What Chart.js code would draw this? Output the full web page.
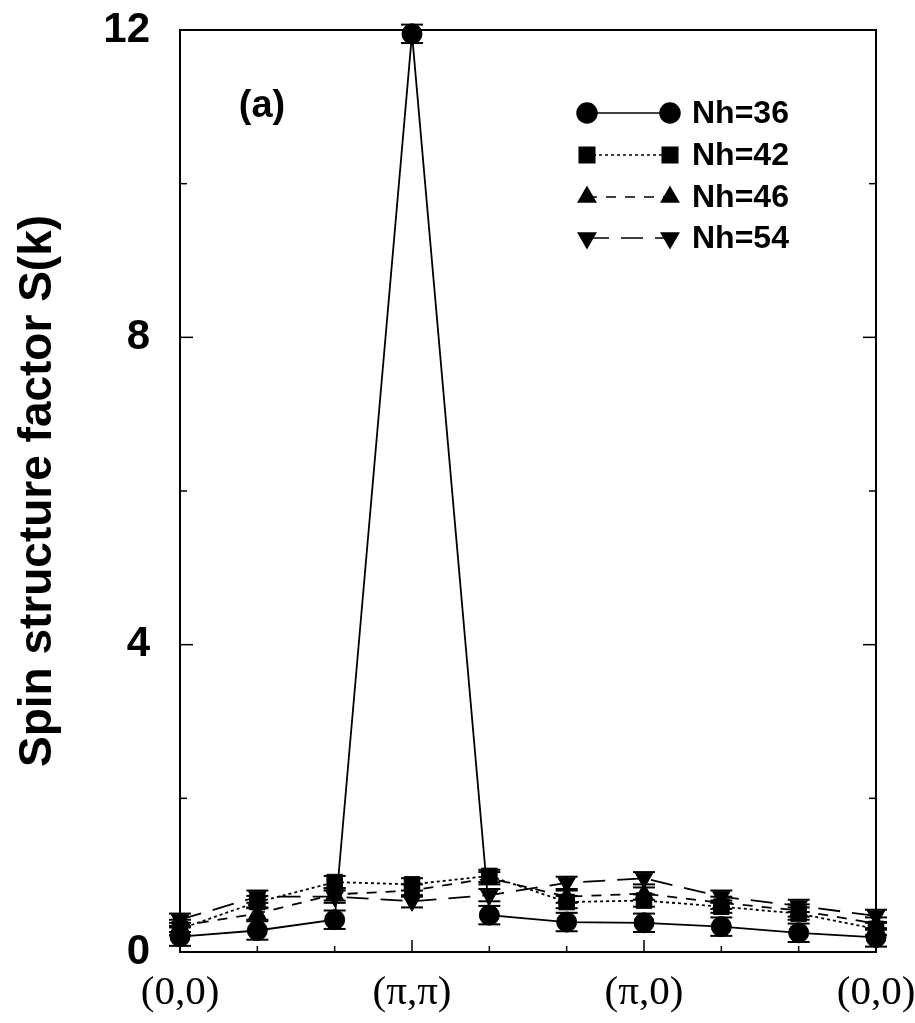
<!DOCTYPE html>
<html>
<head>
<meta charset="utf-8">
<script src="https://cdn.jsdelivr.net/npm/chart.js@4.4.0/dist/chart.umd.min.js"></script>
<style>
  html, body { margin: 0; padding: 0; background: #fff; }
  #wrap { width: 915px; height: 1023px; }
</style>
</head>
<body>
<div id="wrap"><canvas id="sk" width="915" height="1023"></canvas></div>
<script>
// k-path through the Brillouin zone
const kLabels = ['(0,0)', '', '', '(π,π)', '', '', '(π,0)', '', '', '(0,0)'];
const majorK = [0, 3, 6, 9];

// S(k) for each hole number
const seriesNames = ['Nh=36', 'Nh=42', 'Nh=46', 'Nh=54'];
const nh36 = [0.20, 0.28, 0.42, 11.95, 0.48, 0.39, 0.38, 0.33, 0.25, 0.19];
const nh42 = [0.30, 0.65, 0.91, 0.88, 0.99, 0.65, 0.67, 0.59, 0.50, 0.30];
const nh46 = [0.34, 0.50, 0.75, 0.80, 0.96, 0.72, 0.76, 0.64, 0.54, 0.37];
const nh54 = [0.42, 0.72, 0.72, 0.66, 0.74, 0.90, 0.96, 0.72, 0.60, 0.47];
const errSize = [0.12, 0.08, 0.08, 0.08];

const yTicks = [0, 4, 8, 12];
const yMinorTicks = [2, 6, 10];

const styles = [
  { pointStyle: 'circle', rotation: 0, dash: [], radius: 10 },
  { pointStyle: 'rect', rotation: 0, dash: [3, 3], radius: 11 },
  { pointStyle: 'triangle', rotation: 0, dash: [10, 9], radius: 10 },
  { pointStyle: 'triangle', rotation: 180, dash: [22, 12], radius: 10 }
];

const allData = [nh36, nh42, nh46, nh54];

function line(ctx, x1, y1, x2, y2) {
  ctx.beginPath();
  ctx.moveTo(x1, y1);
  ctx.lineTo(x2, y2);
  ctx.stroke();
}

const decor = {
  id: 'decor',
  beforeDatasetsDraw(chart) {
    const { ctx, chartArea: a, scales: { x, y } } = chart;
    ctx.save();
    ctx.strokeStyle = '#000';
    ctx.lineWidth = 2;
    ctx.strokeRect(a.left, a.top, a.right - a.left, a.bottom - a.top);
    ctx.lineWidth = 1.5;
    yTicks.forEach(v => {
      const py = y.getPixelForValue(v);
      line(ctx, a.left, py, a.left + 13, py);
      line(ctx, a.right, py, a.right - 13, py);
    });
    yMinorTicks.forEach(v => {
      const py = y.getPixelForValue(v);
      line(ctx, a.left, py, a.left + 7, py);
      line(ctx, a.right, py, a.right - 7, py);
    });
    kLabels.forEach((l, i) => {
      const px = x.getPixelForValue(i);
      const len = majorK.includes(i) ? 12 : 6;
      line(ctx, px, a.bottom, px, a.bottom - len);
    });
    ctx.restore();
  },
  afterDatasetsDraw(chart) {
    const { ctx, scales: { x, y } } = chart;
    ctx.save();
    ctx.strokeStyle = '#000';
    ctx.fillStyle = '#000';
    // error bars
    ctx.lineWidth = 2;
    allData.forEach((arr, s) => {
      arr.forEach((v, i) => {
        const px = x.getPixelForValue(i);
        const lo = y.getPixelForValue(v - errSize[s]);
        const hi = y.getPixelForValue(v + errSize[s]);
        line(ctx, px, lo, px, hi);
        line(ctx, px - 11, lo, px + 11, lo);
        line(ctx, px - 11, hi, px + 11, hi);
      });
    });
    // legend
    const rowY = [113, 155, 197, 238];
    seriesNames.forEach((name, s) => {
      const st = styles[s];
      const yy = rowY[s];
      ctx.lineWidth = 1.5;
      ctx.setLineDash(st.dash);
      line(ctx, 587, yy, 670, yy);
      ctx.setLineDash([]);
      [587, 670].forEach(px => {
        Chart.helpers.drawPoint(ctx, { pointStyle: st.pointStyle, rotation: st.rotation, radius: st.radius, borderWidth: 1 }, px, yy);
      });
      ctx.font = 'bold 32px "Liberation Sans", Arial, sans-serif';
      ctx.textAlign = 'left';
      ctx.textBaseline = 'middle';
      ctx.fillText(name, 692, yy + 1);
    });
    // panel label
    ctx.font = 'bold 38px "Liberation Sans", Arial, sans-serif';
    ctx.textAlign = 'center';
    ctx.textBaseline = 'middle';
    ctx.fillText('(a)', 262, 107);
    ctx.restore();
  }
};

const datasets = allData.map((arr, s) => ({
  label: seriesNames[s],
  data: arr,
  borderColor: '#000',
  backgroundColor: '#000',
  borderWidth: 1.8,
  borderDash: styles[s].dash,
  pointStyle: styles[s].pointStyle,
  pointRotation: styles[s].rotation,
  pointRadius: styles[s].radius,
  pointBorderWidth: 1,
  pointBackgroundColor: '#000',
  tension: 0,
  clip: false
}));

new Chart(document.getElementById('sk'), {
  type: 'line',
  data: { labels: kLabels, datasets },
  plugins: [decor],
  options: {
    responsive: false,
    animation: false,
    devicePixelRatio: 1,
    layout: { padding: { top: 30, right: 39, left: 0, bottom: 0 } },
    plugins: { legend: { display: false }, tooltip: { enabled: false } },
    scales: {
      x: {
        type: 'category',
        offset: false,
        grid: { display: false, drawTicks: false },
        border: { display: true, color: '#000', width: 2 },
        ticks: {
          autoSkip: false,
          maxRotation: 0,
          color: '#000',
          padding: 17,
          font: { family: '"Liberation Serif", "Times New Roman", serif', size: 41 }
        },
        afterFit: s => { s.height = 71; s.paddingLeft = 0; s.paddingRight = 0; }
      },
      y: {
        min: 0,
        max: 12,
        grid: { display: false, drawTicks: false },
        border: { display: true, color: '#000', width: 2 },
        ticks: {
          stepSize: 4,
          color: '#000',
          padding: 30,
          font: { family: '"Liberation Sans", Arial, sans-serif', size: 42, weight: 'bold' }
        },
        title: {
          display: true,
          text: 'Spin structure factor S(k)',
          color: '#000',
          padding: { top: 11, bottom: 0 },
          font: { family: '"Liberation Sans", Arial, sans-serif', size: 46, weight: 'bold' }
        },
        afterFit: s => { s.width = 180; s.paddingTop = 0; s.paddingBottom = 0; }
      }
    }
  }
});
</script>
</body>
</html>
